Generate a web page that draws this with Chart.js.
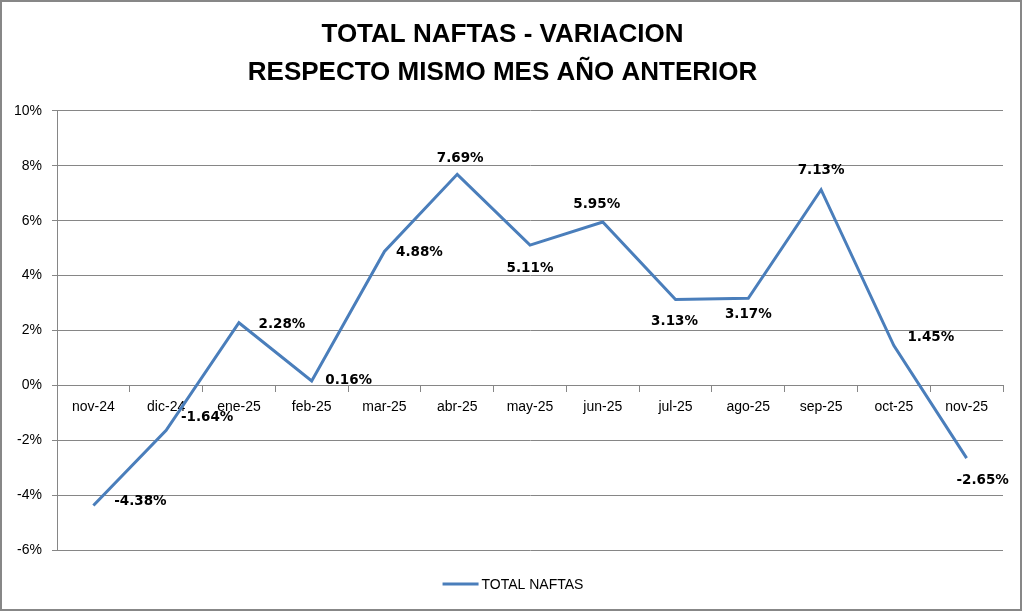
<!DOCTYPE html>
<html>
<head>
<meta charset="utf-8">
<script src="https://cdn.jsdelivr.net/npm/chart.js@4/dist/chart.umd.min.js"></script>
<style>
  html, body { margin: 0; padding: 0; background: #ffffff; }
  #wrap { width: 1024px; height: 612px; position: relative; }
</style>
</head>
<body>
<div id="wrap"><canvas id="c" width="1024" height="612"></canvas></div>
<script>
// ---- data ----
const categories = ['nov-24','dic-24','ene-25','feb-25','mar-25','abr-25','may-25','jun-25','jul-25','ago-25','sep-25','oct-25','nov-25'];
const seriesName = 'TOTAL NAFTAS';
const values = [-4.38, -1.64, 2.28, 0.16, 4.88, 7.69, 5.11, 5.95, 3.13, 3.17, 7.13, 1.45, -2.65];
const titleLines = ['TOTAL NAFTAS - VARIACION', 'RESPECTO MISMO MES AÑO ANTERIOR'];
const yMin = -6, yMax = 10, yStep = 2;

// ---- label placement (style config, px offsets of label centre from point) ----
const labelOffsets = [[47,-4],[41,-13],[43,2],[37,0],[35,1],[3,-16],[0,23],[-6,-18],[-1,22],[0,16],[0,-19],[37,-8],[16,22]];

const LINE_COLOR = '#4A7EBB';
const GRID_COLOR = '#868686';

const frame = {
  id: 'frame',
  beforeDraw(chart) {
    const ctx = chart.ctx;
    ctx.save();
    ctx.fillStyle = '#ffffff';
    ctx.fillRect(0, 0, chart.width, chart.height);
    ctx.restore();
  },
  afterDraw(chart) {
    const ctx = chart.ctx;
    ctx.save();
    ctx.strokeStyle = '#878787';
    ctx.lineWidth = 2;
    ctx.strokeRect(1, 1, 1020, 609);
    ctx.restore();
  }
};

const dataLabels = {
  id: 'dataLabels',
  afterDatasetsDraw(chart) {
    const ctx = chart.ctx;
    const meta = chart.getDatasetMeta(0);
    ctx.save();
    ctx.font = 'bold 13.5px "DejaVu Sans"';
    ctx.fillStyle = '#000000';
    ctx.textAlign = 'center';
    ctx.textBaseline = 'middle';
    meta.data.forEach((pt, i) => {
      const v = chart.data.datasets[0].data[i];
      const off = labelOffsets[i];
      ctx.fillText(v.toFixed(2) + '%', pt.x + off[0], pt.y + off[1]);
    });
    ctx.restore();
  }
};

const customLegend = {
  id: 'customLegend',
  afterDraw(chart) {
    const ctx = chart.ctx;
    const ds = chart.data.datasets[0];
    ctx.save();
    ctx.font = '14px "Liberation Sans"';
    const tw = ctx.measureText(ds.label).width;
    const lineW = 36, gap = 3;
    const total = lineW + gap + tw;
    const x0 = (chart.width - total) / 2 + 1;
    const y = 584;
    ctx.strokeStyle = ds.borderColor;
    ctx.lineWidth = ds.borderWidth;
    ctx.beginPath();
    ctx.moveTo(x0, y);
    ctx.lineTo(x0 + lineW, y);
    ctx.stroke();
    ctx.fillStyle = '#000000';
    ctx.textAlign = 'left';
    ctx.textBaseline = 'middle';
    ctx.fillText(ds.label, x0 + lineW + gap, y + 1);
    ctx.restore();
  }
};

new Chart(document.getElementById('c'), {
  type: 'line',
  data: {
    labels: categories,
    datasets: [{
      label: seriesName,
      data: values,
      borderColor: LINE_COLOR,
      backgroundColor: LINE_COLOR,
      borderWidth: 3,
      pointRadius: 0,
      tension: 0,
      fill: false
    }]
  },
  options: {
    responsive: false,
    animation: false,
    devicePixelRatio: 1,
    layout: { padding: { left: 2, right: 21, top: 0, bottom: 62 } },
    plugins: {
      legend: { display: false },
      tooltip: { enabled: false },
      title: {
        display: true,
        text: titleLines,
        color: '#000000',
        font: { family: '"Liberation Sans"', size: 26, weight: 'bold', lineHeight: 1.46 },
        padding: { top: 16, bottom: 19 }
      }
    },
    scales: {
      x: {
        position: { y: 0 },
        offset: true,
        grid: { display: true, drawOnChartArea: false, drawTicks: true, tickLength: 6, offset: true, color: GRID_COLOR },
        border: { display: true, color: GRID_COLOR, width: 1 },
        ticks: { color: '#000000', padding: 7, font: { family: '"Liberation Sans"', size: 14 }, maxRotation: 0, autoSkip: false }
      },
      y: {
        min: yMin,
        max: yMax,
        afterFit(scale) { scale.width = 55; },
        grid: { color: GRID_COLOR, lineWidth: 1, drawTicks: true, tickLength: 5 },
        border: { display: true, color: GRID_COLOR, width: 1 },
        ticks: {
          stepSize: yStep,
          color: '#000000',
          padding: 10,
          font: { family: '"Liberation Sans"', size: 14 },
          callback: v => v + '%'
        }
      }
    }
  },
  plugins: [frame, dataLabels, customLegend]
});
</script>
</body>
</html>
